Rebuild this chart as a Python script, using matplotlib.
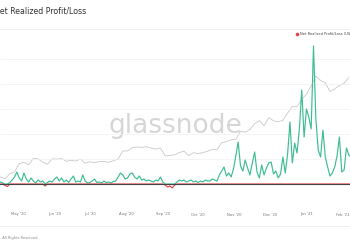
import numpy as np
import pandas as pd
import matplotlib
matplotlib.use("Agg")
import matplotlib.pyplot as plt
import matplotlib.dates as mdates
from matplotlib.lines import Line2D

# ---------------------------------------------------------------------------
# Data
# ---------------------------------------------------------------------------
# Net realized profit/loss, USD millions, one value every 2 days from 2020-04-16
NRPL_START = "2020-04-16"
nrpl_apr = [40, 20, -30, -50, 30, 80, 140, 240]
nrpl_may = [120, 60, 220, 100, 40, 120, 60, 20, 80, 40, 60, -40, 30, 60, 40]
nrpl_jun = [100, 140, 60, 120, 40, 80, 30, 100, 160, 40, 60, 40, 180, 60, 20]
nrpl_jul = [30, 60, 100, 30, 40, 20, 60, 30, 40, 20, 50, 60, 140, 220, 180]
nrpl_aug = [100, 120, 200, 220, 140, 100, 160, 80, 100, 60, 80, 60, 40, 80, 60, 140]
nrpl_sep = [40, -20, -60, -40, -80, -20, 40, 80, 60, 80, 40, 60, 80, 40, 60]
nrpl_oct = [30, 60, 40, 80, 60, 60, 100, 80, 60, 180, 260, 340, 160, 220, 140, 300]
nrpl_nov = [560, 840, 360, 260, 480, 320, 180, 420, 640, 240, 120, 380, 180, 320, 420]
nrpl_dec = [440, 200, 260, 120, 200, 540, 220, 600, 1240, 420, 820, 620, 1100, 1880, 940, 1500]
nrpl_jan = [1340, 1100, 2760, 1300, 680, 540, 1080, 540, 340, 160, 220, 340, 560, 940, 240]
nrpl_feb = [280, 720, 580, 540]

# BTC price (USD), one value every 4 days from 2020-04-16
PRICE_START = "2020-04-16"
price = [7100, 6900, 7500, 7750,
         8900, 9150, 8750, 9800, 9700, 9150, 8850, 9700,
         9650, 9750, 9300, 9450, 9350, 9650, 9000,
         9230, 9080, 9250, 9250, 9150, 9380, 9700, 11100,
         11100, 11750, 11900, 11800, 11950, 11680, 11480, 11700,
         10200, 10280, 10400, 10800, 11080, 10230, 10780,
         10620, 10800, 11060, 11420, 11370, 12800, 13030, 13460,
         13550, 15590, 15330, 16070, 17800, 18700, 17150, 19700,
         18650, 18320, 18810, 21300, 23860, 23730, 27080,
         29370, 33970, 40150, 37300, 35830, 30830, 32260, 34300,
         35510, 39260]

TITLE = "Net Realized Profit/Loss"
LEGEND = "Net Realized Profit/Loss (USD)"
FOOTER = "\u00a9 2021 Glassnode. All Rights Reserved."

GREEN = "#3dbd92"
RED = "#e0464b"
GREY = "#c9c9c9"

# ---------------------------------------------------------------------------
nrpl = np.array(nrpl_apr + nrpl_may + nrpl_jun + nrpl_jul + nrpl_aug + nrpl_sep
                + nrpl_oct + nrpl_nov + nrpl_dec + nrpl_jan + nrpl_feb, dtype=float)
t_nrpl = pd.date_range(NRPL_START, periods=len(nrpl), freq="2D")
t_price = pd.date_range(PRICE_START, periods=len(price), freq="4D")

W, H = 350, 250
fig = plt.figure(figsize=(W / 100, H / 100), dpi=100)
fig.patch.set_facecolor("white")

def fy(py):
    return 1 - py / H

# plot area: pixel rows 40..200
ax = fig.add_axes([0, fy(200), 1, (200 - 40) / H])
ax2 = ax.twinx()
ax.set_zorder(ax2.get_zorder() + 1)
ax.patch.set_visible(False)

x0 = mdates.date2num(pd.Timestamp("2020-04-15 16:00"))
x1 = mdates.date2num(pd.Timestamp("2021-02-07"))

ax2.plot(t_price, price, color=GREY, lw=0.6)
ax2.set_yscale("log")
ax2.set_ylim(4783, 74760)
ax2.set_yticks([])
ax2.yaxis.set_minor_locator(matplotlib.ticker.NullLocator())

ax.plot(t_nrpl, np.maximum(nrpl, 0), color=GREEN, lw=0.85)
ax.plot(t_nrpl, np.minimum(nrpl, 0), color=RED, lw=0.85)
ax.axhline(0, color="#444444", lw=0.8)
ax.set_ylim(-320, 2880)
ax.set_yticks([500, 1000, 1500, 2000, 2500])
ax.grid(axis="y", color="#f0f0f0", lw=0.5)
ax.tick_params(axis="y", length=0, labelleft=False)

for a in (ax, ax2):
    a.set_xlim(x0, x1)
    for s in a.spines.values():
        s.set_visible(False)

ax.xaxis.set_major_locator(mdates.MonthLocator())
ax.xaxis.set_major_formatter(mdates.DateFormatter("%b '%y"))
ax.tick_params(axis="x", length=0, labelsize=2.7, labelcolor="#777777", pad=9)

# watermark
fig.text(175 / W, fy(126), "glassnode", fontsize=19, color="#d6d6d6",
         ha="center", va="center", zorder=0)

# header
fig.text(-6 / W, fy(11), TITLE, fontsize=5.7, color="#333333", ha="left", va="center")
fig.add_artist(Line2D([0, 1], [fy(29), fy(29)], color="#eeeeee", lw=0.6))
fig.add_artist(Line2D([297 / W], [fy(34)], marker="o", ms=1.6, color=RED, lw=0))
fig.text(300 / W, fy(34), LEGEND, fontsize=2.6, color="#444444", ha="left", va="center")

# footer
fig.add_artist(Line2D([0, 1], [fy(226), fy(226)], color="#eeeeee", lw=0.6))
fig.text(-34 / W, fy(238), FOOTER, fontsize=2.6, color="#888888", ha="left", va="center")

fig.savefig("out.png", dpi=100, facecolor="white")
